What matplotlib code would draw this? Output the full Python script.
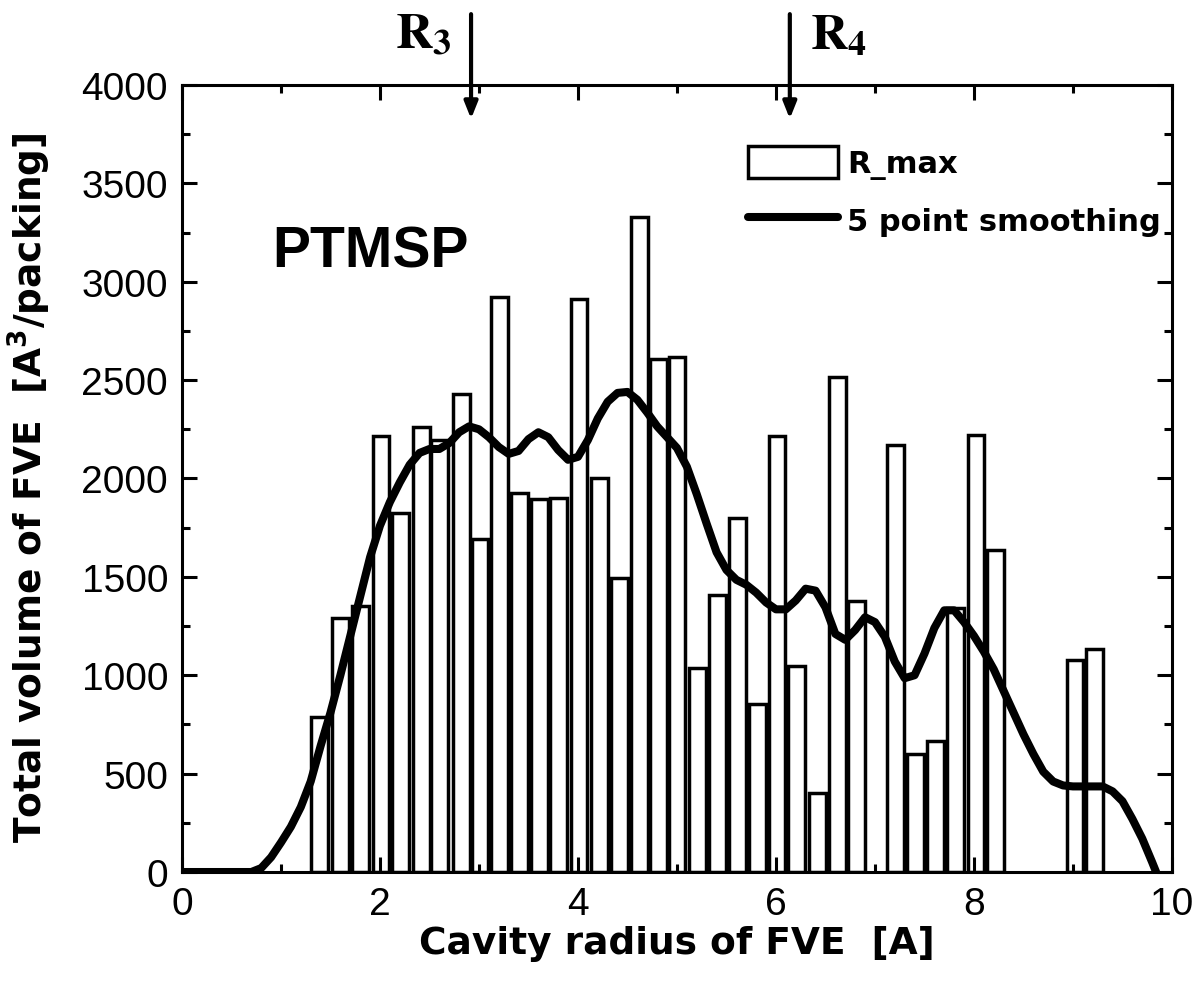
import numpy as np
from matplotlib import pyplot as plt
from matplotlib.ticker import MultipleLocator
from matplotlib.lines import Line2D
from matplotlib.patches import Patch

plt.rcParams['font.family'] = ['Liberation Sans', 'DejaVu Sans']
plt.rcParams['mathtext.fontset'] = 'dejavusans'

# histogram R_max (radius, total volume)
radius = [1.39, 1.60, 1.80, 2.01, 2.21, 2.42, 2.60, 2.82, 3.01, 3.21, 3.41, 3.61,
          3.80, 4.01, 4.22, 4.42, 4.62, 4.81, 5.00, 5.21, 5.41, 5.61, 5.81, 6.01,
          6.21, 6.42, 6.62, 6.81, 7.21, 7.41, 7.61, 7.81, 8.02, 8.22, 9.02, 9.22]
volume = [790, 1290, 1350, 2215, 1825, 2260, 2195, 2430, 1695, 2920, 1925, 1895,
          1900, 2910, 2000, 1495, 3330, 2605, 2615, 1035, 1410, 1800, 855, 2215,
          1045, 400, 2515, 1375, 2170, 600, 665, 1340, 2220, 1635, 1075, 1135]

# 5 point smoothing curve
smooth_x = [0.0, 0.5, 0.7, 0.8, 0.9, 1.0, 1.1, 1.2, 1.3, 1.4, 1.5, 1.6, 1.7, 1.8,
            1.9, 2.0, 2.1, 2.2, 2.3, 2.4, 2.5, 2.6, 2.7, 2.8, 2.9, 3.0, 3.1, 3.2,
            3.3, 3.4, 3.5, 3.6, 3.7, 3.8, 3.9, 4.0, 4.1, 4.2, 4.3, 4.4, 4.5, 4.6,
            4.7, 4.8, 4.9, 5.0, 5.1, 5.2, 5.3, 5.4, 5.5, 5.6, 5.7, 5.8, 5.9, 6.0,
            6.1, 6.2, 6.3, 6.4, 6.5, 6.6, 6.7, 6.8, 6.9, 7.0, 7.1, 7.2, 7.3, 7.4,
            7.5, 7.6, 7.7, 7.8, 7.9, 8.0, 8.1, 8.2, 8.3, 8.4, 8.5, 8.6, 8.7, 8.8,
            8.9, 9.0, 9.1, 9.2, 9.3, 9.4, 9.5, 9.6, 9.7, 9.8, 9.84]
smooth_y = [0, 0, 0, 20, 75, 150, 230, 330, 460, 640, 810, 1000, 1200, 1400,
            1600, 1760, 1880, 1980, 2070, 2130, 2150, 2150, 2180, 2235, 2265, 2250, 2210, 2160,
            2125, 2140, 2200, 2235, 2210, 2145, 2095, 2110, 2195, 2305, 2390, 2435, 2440, 2400,
            2335, 2265, 2210, 2155, 2060, 1920, 1770, 1625, 1535, 1485, 1460, 1420, 1370, 1335,
            1335, 1380, 1440, 1430, 1345, 1210, 1180, 1230, 1295, 1270, 1195, 1070, 985, 1000,
            1110, 1240, 1330, 1330, 1270, 1200, 1120, 1030, 920, 810, 700, 600, 510, 460,
            440, 435, 435, 435, 435, 410, 360, 270, 170, 50, 0]

markers = [(r'$\mathbf{R_3}$', 2.92), (r'$\mathbf{R_4}$', 6.14)]

fig = plt.figure(figsize=(12.02, 9.95), dpi=100)
ax = fig.add_axes([0.1514, 0.1226, 0.975 - 0.1514, 0.9136 - 0.1226])

ax.bar(radius, volume, width=0.17, color='white', edgecolor='black', linewidth=2.5)
ax.plot(smooth_x, smooth_y, color='black', linewidth=5.8,
        solid_capstyle='round', solid_joinstyle='round')

ax.set_xlim(0, 10)
ax.set_ylim(0, 4000)
ax.xaxis.set_major_locator(MultipleLocator(2))
ax.xaxis.set_minor_locator(MultipleLocator(1))
ax.yaxis.set_major_locator(MultipleLocator(500))
ax.yaxis.set_minor_locator(MultipleLocator(250))
ax.tick_params(which='both', direction='in', top=True, right=True, width=2.2)
ax.tick_params(which='major', length=11, labelsize=28, pad=10)
ax.tick_params(which='minor', length=6)
for s in ax.spines.values():
    s.set_linewidth(2.2)

ax.set_xlabel('Cavity radius of FVE  [A]', fontsize=27, fontweight='bold',
              family='DejaVu Sans', labelpad=2)
ax.set_ylabel(r'Total volume of FVE  [A$^{\mathbf{3}}$/packing]', fontsize=27,
              fontweight='bold', family='DejaVu Sans')
ax.yaxis.set_label_coords(-0.13, 0.49)

ax.text(0.091, 0.769, 'PTMSP', transform=ax.transAxes, fontsize=41,
        fontweight='bold', va='baseline')

handles = [Patch(facecolor='white', edgecolor='black', linewidth=2.5),
           Line2D([], [], color='black', linewidth=5.8, solid_capstyle='round')]
ax.legend(handles, ['R_max', '5 point smoothing'], loc='upper left',
          bbox_to_anchor=(0.5717, 0.922), frameon=False, borderpad=0, borderaxespad=0,
          prop={'size': 22, 'weight': 'bold', 'family': 'DejaVu Sans'},
          handlelength=2.95, handleheight=1.2, handletextpad=0.3, labelspacing=0.8)

# R3 / R4 arrows above the plot
for lab, xr in markers:
    ax.annotate('', xy=(xr, 0.957), xytext=(xr, 1.09),
                xycoords=('data', 'axes fraction'),
                arrowprops=dict(arrowstyle='-|>,head_length=1.0,head_width=0.4',
                                color='black', linewidth=3, shrinkA=0, shrinkB=0))
ax.text(2.92 - 0.19, 1.047, markers[0][0], transform=ax.get_xaxis_transform(),
        ha='right', va='baseline', fontsize=37, math_fontfamily='stix')
ax.text(6.14 + 0.2, 1.047, markers[1][0], transform=ax.get_xaxis_transform(),
        ha='left', va='baseline', fontsize=37, math_fontfamily='stix')

fig.savefig('out.png', dpi=100)
